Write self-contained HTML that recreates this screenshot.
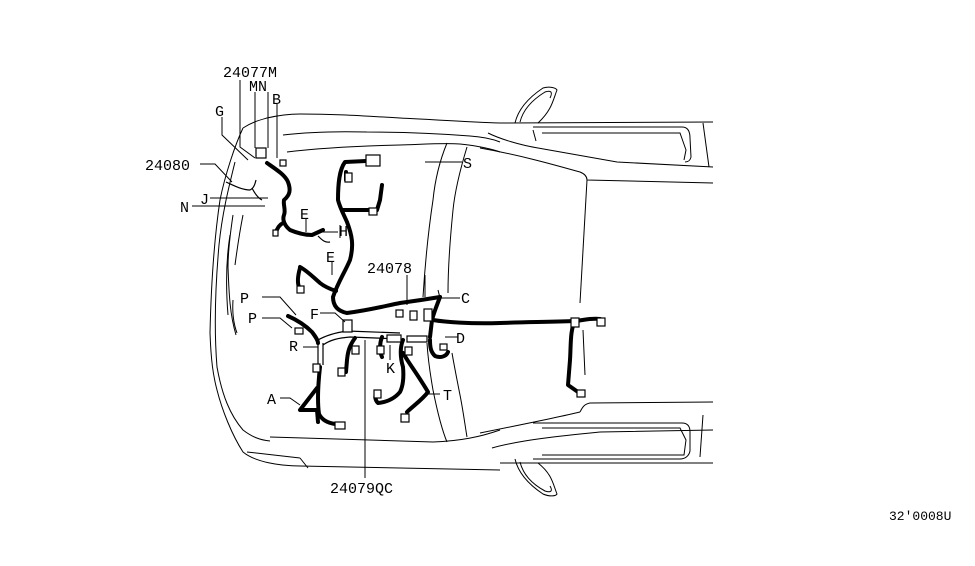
<!DOCTYPE html>
<html><head><meta charset="utf-8"><style>
html,body{margin:0;padding:0;background:#fff}
svg{display:block}
text{font-family:"Liberation Mono","Liberation Sans",sans-serif;font-size:15px;fill:#000}
</style></head><body>
<svg width="975" height="566" viewBox="0 0 975 566" xmlns="http://www.w3.org/2000/svg">
<g fill="none" stroke="#000" stroke-width="1">
<!-- top body lines -->
<path d="M243,128 C252,122 260,120 267,118 C280,115 290,114 300,114 C330,114 350,115 400,118 C440,120 470,122 500,123 L713,122"/>
<path d="M283,135 C300,133 330,131 367,132 C400,132 433,133 470,136 C485,137 495,140 500,142"/>
<path d="M287,152 C320,148 360,146 400,145 C430,144 445,143 460,144 C480,146 495,150 500,152"/>
<path d="M488,133 C500,139 520,145 538,148 L617,162 L713,167"/>
<path d="M480,148 C520,155 555,165 580,172 C585,174 587,177 587,180 L713,183"/>
<path d="M533,127 L682,127 C688,127 690,132 690,138 L691,157 C690,161 688,162 685,162"/>
<path d="M542,133 L680,133 L686,150 L684,160"/>
<path d="M703,123 L709,167"/>
<path d="M515,123 C518,110 528,98 543,88 C550,86 556,88 557,90 C553,100 552,110 538,123"/>
<path d="M520,122 C523,110 532,100 545,92 C551,90 553,92 550,98"/>
<path d="M533,130 L536,141"/>
<!-- B pillar to bottom -->
<path d="M587,180 L580,303"/>
<path d="M583,330 L585,375"/>
<!-- bottom body -->
<path d="M580,412 C583,406 585,404 590,403 L713,402"/>
<path d="M480,433 C520,425 555,418 580,412"/>
<path d="M533,423 L682,423 C688,423 690,427 690,432 L690,451 C689,456 685,459 680,459 L533,459"/>
<path d="M542,428 L680,428 L686,440 L684,455 L542,455"/>
<path d="M703,415 L700,457"/>
<path d="M492,448 C520,440 560,436 600,432 L713,430"/>
<path d="M500,463 L713,463"/>
<path d="M515,459 C518,472 528,484 543,494 C550,497 556,496 557,494 C553,484 552,474 538,463"/>
<path d="M520,462 C523,474 532,484 545,491 C551,493 553,491 550,486"/>
<!-- tunnel lines -->
<path d="M447,143 C440,160 435,180 433,200 C428,233 425,265 423,297"/>
<path d="M467,147 C460,170 455,190 453,210 C450,240 448,270 448,293"/>
<path d="M427,343 C428,360 430,373 433,390 C437,410 442,430 447,442"/>
<path d="M452,353 C455,370 458,385 460,395 C463,410 465,425 467,437"/>
<!-- left body -->
<path d="M243,128 C235,145 225,175 220,200 C214,240 211,290 210,333 C211,360 213,375 217,390 C222,410 232,435 243,452 C255,462 280,466 300,466 L500,470"/>
<path d="M235,162 C228,190 222,215 219,245 C215,290 214,330 217,367 C222,395 230,415 243,430 C252,437 260,440 270,441"/>
<path d="M270,437 L433,442 C460,441 480,437 500,430"/>
<path d="M247,452 L300,458"/>
<path d="M300,458 L308,468"/>
<path d="M233,215 C230,235 228,255 228,267 C229,295 230,315 236,335"/>
<path d="M243,215 C240,230 237,250 235,265"/>
<path d="M233,300 C232,315 234,325 237,333"/>
<path d="M230,235 C226,260 226,290 228,315"/>
</g>
<!-- harnesses -->
<g fill="none" stroke="#000" stroke-width="4" stroke-linecap="round" stroke-linejoin="round">
<path d="M267,163 C277,170 285,175 288,182 C291,190 290,195 284,200 C283,205 286,210 284,215 C282,220 285,226 290,230 C297,233 305,235 312,235 L323,230"/>
<path d="M283,223 C279,225 277,228 276,233"/>
<path d="M366,161 L345,162 C339,170 338,185 338,200 C340,208 344,215 347,222 C352,235 354,245 350,260 C345,272 338,282 333,297 C333,305 337,311 347,313 C370,310 385,306 400,303 C415,301 428,299 440,297"/>
<path d="M440,297 C437,305 434,312 432,320 L430,337"/>
<path d="M433,320 C445,322 470,324 500,323 C530,322 550,322 575,321 C585,320 590,318 600,319"/>
<path d="M575,321 C570,330 571,345 570,360 L568,385 L578,392"/>
<path d="M343,210 L377,210 L380,200 L382,185"/>
<path d="M346,172 L346,180"/>
<path d="M300,268 C298,275 297,282 299,287"/>
<path d="M300,267 C306,270 312,276 320,283 C325,287 330,289 336,291"/>
<path d="M288,316 C297,320 305,325 312,332 C315,336 318,340 318,343"/>
<path d="M320,367 C318,385 317,400 319,414 C322,420 328,423 335,424"/>
<path d="M317,388 L300,410 L317,410 L318,422"/>
<path d="M355,338 C350,345 348,350 347,360 L346,372"/>
<path d="M382,337 C380,342 379,350 382,357"/>
<path d="M403,340 C400,347 400,357 403,367 C404,378 403,386 400,392 C395,398 388,402 378,403 C375,400 375,396 376,393"/>
<path d="M403,353 C410,365 418,375 428,392 C422,400 413,406 407,412"/>
<path d="M430,340 C430,348 431,352 435,356 C440,358 446,357 448,352"/>
</g>
<g fill="none" stroke="#000" stroke-width="1.2">
<path d="M318,343 L318,365 M323,343 L323,365"/>
<path d="M318,340 C325,336 333,333 347,331 L400,333"/>
<path d="M323,345 C330,340 338,338 350,337 L400,339"/>
<path d="M226,182 C235,186 242,190 250,190 C254,188 255,184 256,180"/>
<path d="M252,188 C255,194 258,198 262,200"/>
<path d="M318,236 C322,240 325,243 330,242"/>
</g>
<!-- connectors -->
<g fill="#fff" stroke="#000" stroke-width="1.2">
<rect x="366" y="155" width="14" height="11"/><rect x="345" y="173" width="7" height="9"/>
<rect x="369" y="208" width="8" height="7"/><rect x="273" y="230" width="5" height="6"/>
<rect x="297" y="286" width="7" height="7"/><rect x="343" y="320" width="9" height="12"/>
<rect x="396" y="310" width="7" height="7"/><rect x="410" y="311" width="7" height="9"/>
<rect x="424" y="309" width="8" height="12"/><rect x="571" y="318" width="8" height="9"/>
<rect x="597" y="318" width="8" height="8"/><rect x="577" y="390" width="8" height="7"/>
<rect x="407" y="336" width="20" height="6"/><rect x="387" y="335" width="14" height="7"/>
<rect x="313" y="364" width="7" height="8"/><rect x="335" y="422" width="10" height="7"/>
<rect x="374" y="390" width="7" height="8"/><rect x="401" y="414" width="8" height="8"/>
<rect x="338" y="368" width="7" height="8"/><rect x="352" y="346" width="7" height="8"/>
<rect x="377" y="346" width="7" height="8"/><rect x="405" y="347" width="7" height="8"/>
<rect x="440" y="344" width="7" height="6"/><rect x="256" y="148" width="10" height="10"/>
<rect x="280" y="160" width="6" height="6"/><rect x="295" y="328" width="8" height="6"/>
</g>
<!-- leader lines -->
<g fill="none" stroke="#000" stroke-width="1">
<path d="M240,80 L240,147 L255,158"/><path d="M255,92 L255,148"/><path d="M268,92 L268,148"/><path d="M277,104 L277,158"/>
<path d="M222,117 L222,135 L248,160"/><path d="M200,164 L215,164 L232,182"/>
<path d="M210,198 L268,198"/><path d="M192,206 L265,206"/>
<path d="M306,218 L306,232"/><path d="M320,232 L338,232 M340,225 L340,238"/>
<path d="M332,262 L332,275"/><path d="M425,162 L462,162"/>
<path d="M407,275 L407,305"/><path d="M425,275 L425,297"/><path d="M438,290 L440,298 M440,298 L460,298"/>
<path d="M262,297 L280,297 L296,315"/><path d="M262,318 L280,318 L292,328"/>
<path d="M320,313 L335,313 L345,322"/><path d="M303,347 L318,347"/>
<path d="M445,337 L458,337"/><path d="M390,345 L390,360"/><path d="M428,394 L440,394"/>
<path d="M280,398 L290,398 L300,405"/><path d="M365,340 L365,478"/>
</g>
<text x="223" y="77">24077M</text>
<text x="249" y="91">MN</text>
<text x="272" y="104">B</text>
<text x="215" y="116">G</text>
<text x="145" y="170">24080</text>
<text x="200" y="204">J</text>
<text x="180" y="212">N</text>
<text x="300" y="219">E</text>
<text x="339" y="236">H</text>
<text x="326" y="262">E</text>
<text x="367" y="273">24078</text>
<text x="463" y="168">S</text>
<text x="461" y="303">C</text>
<text x="240" y="303">P</text>
<text x="248" y="323">P</text>
<text x="310" y="319">F</text>
<text x="289" y="351">R</text>
<text x="456" y="343">D</text>
<text x="386" y="373">K</text>
<text x="443" y="400">T</text>
<text x="267" y="404">A</text>
<text x="330" y="493">24079QC</text>
<text x="889" y="520" style="font-size:13px">32'0008U</text>
</svg>
</body></html>
